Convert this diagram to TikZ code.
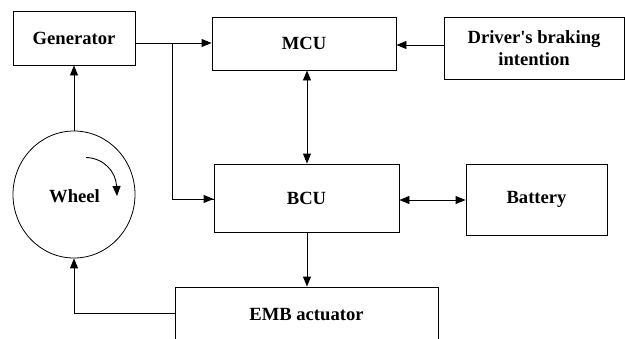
\documentclass[tikz,border=0pt]{standalone}
\usepackage{fontspec}
\setmainfont{Liberation Serif}
\usetikzlibrary{arrows.meta,shapes.geometric}
\begin{document}
\begin{tikzpicture}[x=1pt,y=-1pt,
  lbl/.style={font=\bfseries\fontsize{18.6}{22}\selectfont},
  box/.style={draw, line width=0.9pt, inner sep=0pt, lbl, align=center},
  link/.style={line width=0.9pt, -{Triangle[length=10pt,width=8pt]}},
  dlink/.style={line width=0.9pt, {Triangle[length=10pt,width=8pt]}-{Triangle[length=10pt,width=8pt]}}]
\useasboundingbox (0,0) rectangle (625,338);
\clip (0,0) rectangle (625,338);
\node[box, minimum width=122pt, minimum height=54pt] (gen) at (74,38) {Generator};
\node[box, minimum width=184pt, minimum height=53pt] (mcu) at (304,43.5) {MCU};
\node[box, minimum width=180pt, minimum height=62pt] (drv) at (534,48) {Driver\textquotesingle s braking\\intention};
\node[box, minimum width=185pt, minimum height=68pt] (bcu) at (306.5,198) {BCU};
\node[box, minimum width=141pt, minimum height=71pt] (bat) at (536.5,199.5) {Battery};
\node[box, minimum width=263pt, minimum height=56pt] (emb) at (306.5,315) {EMB actuator};
\node[draw, line width=0.8pt, ellipse, minimum width=122pt, minimum height=127pt, inner sep=0pt] (whl) at (74,194.5) {};
\node[lbl, inner sep=0pt] (wtxt) at (74.5,196.5) {Wheel};
% connectors
\coordinate (br) at (172,43);
\draw[link] (gen.east |- br) -- (mcu.west |- br);
\draw[line width=0.9pt] (br) |- (bcu.west |- 0,199);
\draw[link] (br |- 0,199) -- (bcu.west |- 0,199);
\draw[link] (drv.west |- 0,45) -- (mcu.east |- 0,45);
\draw[dlink] (mcu.south -| 307,0) -- (bcu.north -| 307,0);
\draw[dlink] (bcu.east |- 0,200) -- (bat.west |- 0,200);
\draw[link] (bcu.south -| 307,0) -- (emb.north -| 307,0);
\draw[link] (emb.west |- 0,313) -| (whl.south);
\draw[link] (whl.north) -- (gen.south);
\coordinate (rs) at (86,157.5);
\coordinate (re) at (117,196);
\draw[line width=0.9pt, -{Triangle[length=10pt,width=8pt]}] (rs) .. controls (104,158) and (116,172) .. (re);
\end{tikzpicture}
\end{document}
